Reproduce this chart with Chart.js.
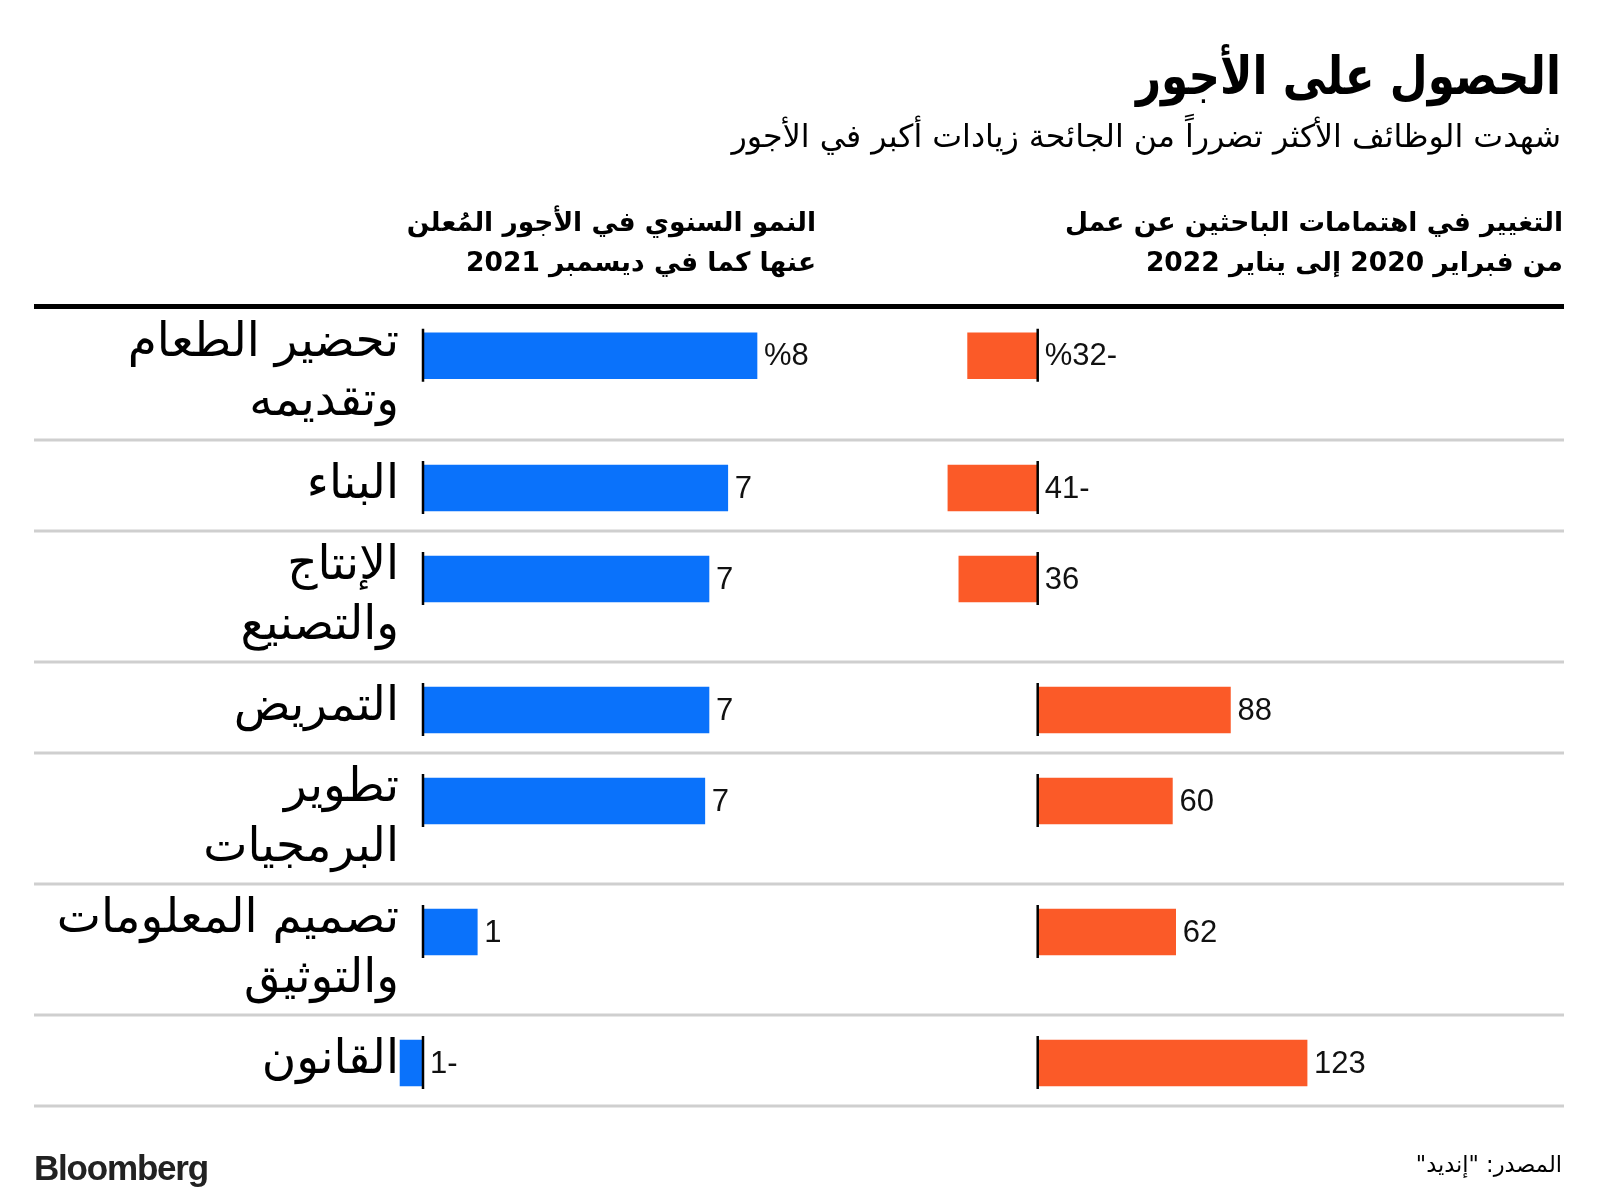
<!DOCTYPE html>
<html lang="ar">
<head>
<meta charset="utf-8">
<script src="https://cdn.jsdelivr.net/npm/chart.js@4.4.1/dist/chart.umd.min.js"></script>
<style>
html,body{margin:0;padding:0;background:#fff;}
#wrap{position:relative;width:1600px;height:1203px;overflow:hidden;background:#fff;}
#c{position:absolute;left:0;top:0;}
.t{position:absolute;direction:rtl;text-align:right;color:#000;font-family:"DejaVu Sans",sans-serif;white-space:nowrap;}
#title{right:39px;top:44px;font-size:52px;font-weight:bold;line-height:64px;transform:scaleX(0.84);transform-origin:right center;}
#sub{right:39px;top:114px;font-size:31.7px;line-height:44px;}
.hdr{top:202px;font-size:26.5px;font-weight:bold;line-height:40px;}
#h1{right:37px;}
#h2{right:784px;}
#brand{position:absolute;left:34px;top:1148px;font-family:"Liberation Sans",Arial,sans-serif;font-weight:bold;font-size:35px;color:#222;letter-spacing:-1.2px;}
#src{right:38px;top:1149px;font-size:22.5px;line-height:30px;}
</style>
</head>
<body>
<div id="wrap">
<canvas id="c" width="1600" height="1203"></canvas>
<div class="t" id="title">الحصول على الأجور</div>
<div class="t" id="sub">شهدت الوظائف الأكثر تضرراً من الجائحة زيادات أكبر في الأجور</div>
<div class="t hdr" id="h1">التغيير في اهتمامات الباحثين عن عمل<br>من فبراير 2020 إلى يناير 2022</div>
<div class="t hdr" id="h2">النمو السنوي في الأجور المُعلن<br>عنها كما في ديسمبر 2021</div>
<div id="brand">Bloomberg</div>
<div class="t" id="src">المصدر: "إنديد"</div>
</div>
<script>
// ---- data ----
const categories = [
  ["تحضير الطعام", "وتقديمه"],
  ["البناء"],
  ["الإنتاج", "والتصنيع"],
  ["التمريض"],
  ["تطوير", "البرمجيات"],
  ["تصميم المعلومات", "والتوثيق"],
  ["القانون"]
];
const wageGrowth = [8, 7.3, 6.85, 6.85, 6.75, 1.3, -0.55];
const wageLabels = ["%8", "7", "7", "7", "7", "1", "1-"];
const interestChange = [-32, -41, -36, 88, 61.5, 63, 123];
const interestLabels = ["%32-", "41-", "36", "88", "60", "62", "123"];

// ---- layout / style ----
const BLUE = '#0a72fb';
const ORANGE = '#fb5a28';
const ROW_ONE = 91, ROW_TWO = 131, BAR_OFFSET = 48, TOP_RULE_EXTRA = 2.5;
const rowSize = categories.map((c, i) => (c.length > 1 ? ROW_TWO : ROW_ONE) + (i === 0 ? TOP_RULE_EXTRA : 0));
const rowTop = [];
let acc = 0;
rowSize.forEach(s => { rowTop.push(acc); acc += s; });
const totalRows = acc;
const rowMid = rowTop.map((t, i) => t + rowSize[i] / 2);
const barPos = rowTop.map((t, i) => t + BAR_OFFSET + (i === 0 ? TOP_RULE_EXTRA / 2 : 0));
const rules = rowTop.concat([totalRows]);

const AREA_LEFT = 398, AREA_RIGHT = 1564, AREA_TOP = 306.5, RULE_LEFT = 34;
const W_ZERO = 423, W_PX = 41.75;
const I_ZERO = 1037.7, I_PX = 2.19;

const rowRules = {
  id: 'rowRules',
  beforeDatasetsDraw(chart) {
    const {ctx, chartArea} = chart;
    const y = chart.scales.y;
    ctx.save();
    rules.forEach((r, i) => {
      const py = y.getPixelForValue(r);
      ctx.beginPath();
      ctx.strokeStyle = i === 0 ? '#000' : '#cfcfcf';
      ctx.lineWidth = i === 0 ? 5 : 3;
      ctx.moveTo(RULE_LEFT, py);
      ctx.lineTo(chartArea.right, py);
      ctx.stroke();
    });
    ctx.restore();
  }
};

const valueMarks = {
  id: 'valueMarks',
  afterDatasetsDraw(chart) {
    const ctx = chart.ctx;
    const labelSets = [wageLabels, interestLabels];
    ctx.save();
    chart.data.datasets.forEach((ds, di) => {
      const meta = chart.getDatasetMeta(di);
      const xs = chart.scales[ds.xAxisID];
      const zero = xs.getPixelForValue(0);
      meta.data.forEach((bar, i) => {
        const h = bar.height;
        ctx.strokeStyle = '#000';
        ctx.lineWidth = 2.5;
        ctx.beginPath();
        ctx.moveTo(zero, bar.y - h / 2 - 4);
        ctx.lineTo(zero, bar.y + h / 2 + 3);
        ctx.stroke();
        const end = Math.max(bar.x, zero);
        ctx.fillStyle = '#111';
        ctx.font = '31px "Liberation Sans", Arial, sans-serif';
        ctx.textAlign = 'left';
        ctx.textBaseline = 'middle';
        ctx.fillText(labelSets[di][i], end + 7, bar.y + 1);
      });
    });
    ctx.restore();
  }
};

new Chart(document.getElementById('c'), {
  type: 'bar',
  data: {
    datasets: [
      {
        label: 'النمو السنوي في الأجور',
        data: wageGrowth.map((v, i) => ({x: v, y: barPos[i]})),
        xAxisID: 'xw',
        backgroundColor: BLUE
      },
      {
        label: 'التغيير في اهتمامات الباحثين عن عمل',
        data: interestChange.map((v, i) => ({x: v, y: barPos[i]})),
        xAxisID: 'xi',
        backgroundColor: ORANGE
      }
    ]
  },
  options: {
    indexAxis: 'y',
    responsive: false,
    animation: false,
    devicePixelRatio: 1,
    layout: {padding: {top: AREA_TOP, bottom: 1203 - AREA_TOP - totalRows, left: 0, right: 1600 - AREA_RIGHT}},
    datasets: {bar: {grouped: false, barThickness: 46, borderWidth: 0}},
    scales: {
      y: {
        type: 'linear',
        position: 'left',
        reverse: true,
        offset: false,
        min: 0,
        max: totalRows,
        grid: {display: false, drawTicks: false, offset: false},
        border: {display: false},
        afterBuildTicks: s => { s.ticks = rowMid.map(v => ({value: v})); },
        afterFit: s => { s.width = AREA_LEFT; s.paddingTop = 0; s.paddingBottom = 0; },
        ticks: {
          autoSkip: false,
          padding: -1,
          color: '#000',
          font: {family: '"DejaVu Sans"', size: 47, lineHeight: 1.27},
          callback: (v, i) => categories[i]
        }
      },
      xw: {
        type: 'linear', axis: 'x', position: 'bottom', display: false,
        min: -(W_ZERO - AREA_LEFT) / W_PX,
        max: (AREA_RIGHT - W_ZERO) / W_PX
      },
      xi: {
        type: 'linear', axis: 'x', position: 'bottom', display: false,
        min: -(I_ZERO - AREA_LEFT) / I_PX,
        max: (AREA_RIGHT - I_ZERO) / I_PX
      }
    },
    plugins: {legend: {display: false}, tooltip: {enabled: false}}
  },
  plugins: [rowRules, valueMarks]
});
</script>
</body>
</html>
